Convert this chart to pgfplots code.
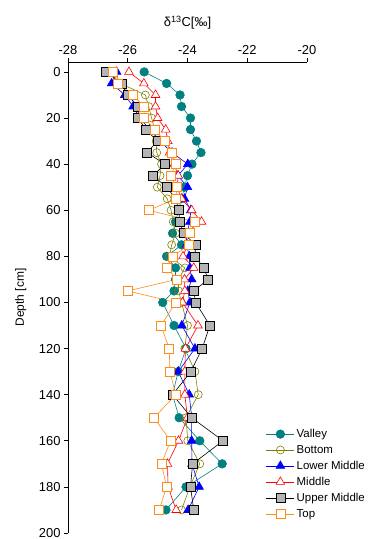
\documentclass[border=0pt]{standalone}
\usepackage{fontspec}
\setmainfont{Liberation Sans}
\usepackage{pgfplots}
\pgfplotsset{compat=1.18}
\definecolor{cValley}{HTML}{008080}
\definecolor{cBottom}{HTML}{808000}
\definecolor{cLower}{HTML}{0000FF}
\definecolor{cMiddle}{HTML}{FF0000}
\definecolor{cUpper}{HTML}{000000}
\definecolor{cUpperFill}{HTML}{B4B4B4}
\definecolor{cTop}{HTML}{FF8C1A}
\begin{document}
\begin{tikzpicture}
\begin{axis}[
  name=ax,
  scale only axis, width=239bp, height=471bp,
  xmin=-28, xmax=-20, ymin=-4.3, ymax=200, y dir=reverse,
  axis x line*=top, axis y line*=left,
  xtick={-28,-26,...,-20}, ytick={0,20,...,200},
  tick align=outside, major tick length=4bp,
  every tick/.style={black, line width=0.6bp},
  axis line style={black, line width=0.8bp},
  /pgf/number format/assume math mode=true,
  ticklabel style={font=\fontsize{13}{15}\selectfont},
  xlabel={δ\textsuperscript{13}C[‰]},
  xlabel style={font=\fontsize{13}{15}\selectfont, at={(axis description cs:0.5,1)}, anchor=base, yshift=35bp},
  ylabel={Depth [cm]},
  ylabel style={font=\fontsize{12}{14}\selectfont, at={(axis description cs:-0.16,0.5)}, anchor=south, rotate=0},
  legend style={at={(0.828,0.225)}, anchor=north west, draw=none, fill=none,
    font=\fontsize{11.5}{13.5}\selectfont, row sep=2.3bp, inner sep=0pt},
  legend cell align=left,
  legend image code/.code={\draw[mark repeat=2,mark phase=2] plot coordinates {(0bp,0bp) (14bp,0bp) (28bp,0bp)};},
  every axis plot/.append style={line width=0.6bp},
]
\addplot[cValley, mark=*, mark size=4.3bp, mark options={fill=cValley}] coordinates {
(-25.45,0) (-24.7,5) (-24.25,10) (-24.2,15) (-23.9,20) (-23.9,25) (-23.7,30) (-23.55,35) (-23.85,40) (-24.0,45) (-24.1,50) (-24.2,55) (-24.3,60) (-24.4,65) (-24.5,70) (-24.2,75) (-24.7,80) (-24.4,85) (-24.4,90) (-24.45,95) (-24.83,100) (-24.45,110) (-24.05,120) (-24.31,130) (-24.5,140) (-24.28,150) (-23.59,160) (-22.84,170) (-24.05,180) (-24.72,190)};
\addlegendentry{Valley}
\addplot[cBottom, mark=o, mark size=4bp, mark options={fill=white}] coordinates {
(-26.45,0) (-26.25,5) (-25.41,10) (-25.3,15) (-25.2,20) (-25.1,25) (-25.05,30) (-25.03,35) (-24.87,40) (-24.92,45) (-25.01,50) (-24.68,55) (-24.55,60) (-24.48,65) (-24.4,70) (-24.53,75) (-24.6,80) (-24.09,85) (-24.3,90) (-24.3,95) (-24.2,100) (-24.0,110) (-24.09,120) (-23.75,130) (-23.64,140) (-24.05,150) (-23.99,160) (-23.59,170) (-23.92,180) (-24.2,190)};
\addlegendentry{Bottom}
\addplot[cLower, mark=triangle*, mark size=5bp, mark options={fill=cLower}] coordinates {
(-26.37,0) (-26.54,5) (-26.1,10) (-25.82,15) (-25.6,20) (-25.26,25) (-24.92,30) (-24.52,35) (-23.99,40) (-24.32,45) (-24.0,50) (-24.1,55) (-23.89,60) (-23.92,65) (-24.02,70) (-24.03,75) (-23.94,80) (-23.92,85) (-23.86,90) (-23.99,95) (-23.92,100) (-24.19,110) (-23.75,120) (-24.31,130) (-23.94,140) (-23.86,150) (-23.86,160) (-23.85,170) (-23.61,180) (-23.98,190)};
\addlegendentry{Lower Middle}
\addplot[cMiddle, mark=triangle*, mark size=5bp, mark options={fill=white}] coordinates {
(-25.96,0) (-25.46,5) (-25.07,10) (-25.07,15) (-25.0,20) (-24.73,25) (-24.66,30) (-24.6,35) (-24.45,40) (-24.31,45) (-24.35,50) (-24.2,55) (-23.86,60) (-23.53,65) (-24.1,70) (-24.0,75) (-24.15,80) (-23.79,85) (-24.1,90) (-24.09,95) (-24.17,100) (-23.65,110) (-24.07,120) (-24.09,130) (-24.09,140) (-24.0,150) (-24.3,160) (-24.67,170) (-24.65,180) (-24.38,190)};
\addlegendentry{Middle}
\addplot[cUpper, mark=square*, mark size=4.5bp, mark options={fill=cUpperFill}] coordinates {
(-26.73,0) (-26.21,5) (-26.01,10) (-25.65,15) (-25.65,20) (-25.4,25) (-25.01,30) (-25.35,35) (-24.76,40) (-25.15,45) (-24.7,50) (-24.39,55) (-24.3,60) (-24.25,65) (-24.14,70) (-23.73,75) (-23.75,80) (-23.45,85) (-23.31,90) (-23.79,95) (-23.73,100) (-23.25,110) (-23.51,120) (-23.89,130) (-24.5,140) (-23.86,150) (-22.81,160) (-23.83,170) (-23.9,180) (-23.79,190)};
\addlegendentry{Upper Middle}
\addplot[cTop, mark=square*, mark size=4.5bp, mark options={fill=white}] coordinates {
(-26.5,0) (-26.32,5) (-25.84,10) (-25.45,15) (-25.45,20) (-25.11,25) (-24.76,30) (-24.53,35) (-24.39,40) (-24.57,45) (-24.36,50) (-24.39,55) (-25.29,60) (-23.75,65) (-23.92,70) (-23.94,75) (-24.5,80) (-24.68,85) (-24.36,90) (-26.0,95) (-24.39,100) (-24.89,110) (-24.61,120) (-24.59,130) (-24.39,140) (-25.12,150) (-24.57,160) (-24.87,170) (-24.7,180) (-24.95,190)};
\addlegendentry{Top}
\end{axis}
\pgfresetboundingbox
\path[use as bounding box] (ax.north west) ++(-68bp,62bp) rectangle ++(377bp,-539bp);
\end{tikzpicture}
\end{document}
